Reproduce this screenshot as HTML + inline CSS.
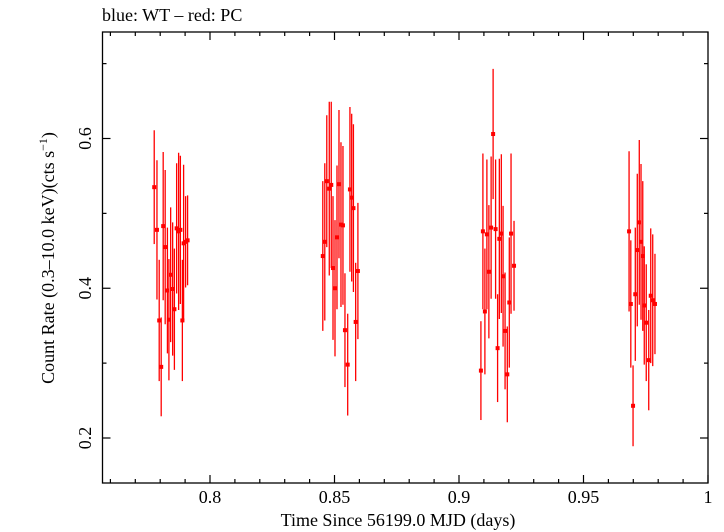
<!DOCTYPE html>
<html><head><meta charset="utf-8">
<style>
html,body{margin:0;padding:0;background:#fff;}
svg{display:block;font-family:"Liberation Serif",serif;}
</style></head>
<body>
<svg id="chart" width="724" height="532" viewBox="0 0 724 532" xmlns="http://www.w3.org/2000/svg">
<text x="102" y="21" font-size="18">blue: WT – red: PC</text>
<rect x="102.5" y="32" width="605.5" height="451" fill="none" stroke="#000" stroke-width="1.3"/>
<g id="ticks"></g>
<g id="marks"></g>
<text x="398" y="526" font-size="18" text-anchor="middle">Time Since 56199.0 MJD (days)</text>
<text transform="translate(54,258) rotate(-90)" font-size="18" text-anchor="middle">Count Rate (0.3–10.0 keV)(cts s<tspan dy="-7" font-size="12">−1</tspan><tspan dy="7">)</tspan></text>
</svg>
<script>
const times = [0.7776,0.7787,0.7796,0.7804,0.7812,0.7820,0.7829,0.7835,0.7842,0.7850,0.7857,0.7866,0.7874,0.7881,0.7889,0.7894,0.7902,0.7910,
0.8453,0.8461,0.8469,0.8479,0.8487,0.8494,0.8502,0.8510,0.8518,0.8526,0.8534,0.8542,0.8553,0.8562,0.8569,0.8576,0.8585,0.8594,
0.9088,0.9096,0.9104,0.9112,0.9120,0.9129,0.9137,0.9147,0.9155,0.9162,0.9170,0.9177,0.9185,0.9194,0.9202,0.9209,0.9221,
0.9683,0.9690,0.9699,0.9708,0.9716,0.9724,0.9731,0.9738,0.9744,0.9752,0.9762,0.9770,0.9778,0.9787];
const rates = [0.535,0.478,0.357,0.295,0.483,0.455,0.397,0.358,0.418,0.399,0.372,0.480,0.476,0.478,0.357,0.460,0.462,0.464,
0.443,0.462,0.543,0.533,0.538,0.427,0.400,0.468,0.539,0.485,0.484,0.344,0.298,0.532,0.521,0.507,0.355,0.423,
0.290,0.476,0.369,0.472,0.422,0.481,0.606,0.479,0.320,0.466,0.473,0.416,0.343,0.285,0.381,0.473,0.430,
0.476,0.379,0.243,0.392,0.451,0.488,0.462,0.443,0.377,0.354,0.304,0.390,0.384,0.379];
const errs = [0.076,0.093,0.081,0.066,0.099,0.103,0.084,0.081,0.090,0.089,0.081,0.087,0.105,0.099,0.081,0.105,0.061,0.060,
0.100,0.105,0.088,0.116,0.111,0.096,0.091,0.096,0.099,0.110,0.106,0.076,0.068,0.110,0.112,0.112,0.079,0.091,
0.066,0.104,0.084,0.100,0.089,0.095,0.087,0.093,0.072,0.107,0.106,0.094,0.078,0.064,0.087,0.107,0.060,
0.107,0.085,0.054,0.089,0.102,0.110,0.104,0.100,0.079,0.078,0.067,0.090,0.088,0.067];
const xMajor = [0.8,0.85,0.9,0.95,1.0];
const xMajorLabels = ["0.8","0.85","0.9","0.95","1"];
const yMajor = [0.2,0.4,0.6];
const yMajorLabels = ["0.2","0.4","0.6"];
const yMinor = [0.3,0.5,0.7];

const X0=102.5,X1=708,Y0=32,Y1=483;
function xs(t){return 210+(t-0.8)*2490;}
function ys(v){return 138.5-(v-0.6)*748.75;}
const NS="http://www.w3.org/2000/svg";
function mk(tag,attrs,parent){const e=document.createElementNS(NS,tag);for(const k in attrs)e.setAttribute(k,attrs[k]);parent.appendChild(e);return e;}
const tg=document.getElementById('ticks');
// x ticks
for(let i=76;i<=100;i++){
  const t=i/100;const x=xs(t);
  if(x<X0||x>X1+0.5)continue;
  const major=(i%5===0);const L=major?8:4;
  const a=mk('line',{x1:x,x2:x,y1:Y1,y2:Y1-L,stroke:'#000','stroke-width':1.2},tg);
  
  
  const b=mk('line',{x1:x,x2:x,y1:Y0,y2:Y0+L,stroke:'#000','stroke-width':1.2},tg);
  
  
}
xMajor.forEach((t,i)=>{
  const tx=mk('text',{x:xs(t),y:503,'font-size':18,'text-anchor':'middle'},tg);
  tx.textContent=xMajorLabels[i];
  
  
});
yMajor.concat(yMinor).forEach((v,i)=>{
  const y=ys(v);const L=i<yMajor.length?8:4;
  const a=mk('line',{x1:X0,x2:X0+L,y1:y,y2:y,stroke:'#000','stroke-width':1.2},tg);
  
  
  const b=mk('line',{x1:X1,x2:X1-L,y1:y,y2:y,stroke:'#000','stroke-width':1.2},tg);
  
  
});
yMajor.forEach((v,i)=>{
  const y=ys(v);
  const tx=mk('text',{transform:`translate(91,${y}) rotate(-90)`,'font-size':18,'text-anchor':'middle'},tg);
  tx.textContent=yMajorLabels[i];
  
  
});
const mg=document.getElementById('marks');
times.forEach((t,i)=>{
  const x=xs(t),y=ys(rates[i]);
  const e=mk('line',{x1:x,x2:x,y1:ys(rates[i]+errs[i]),y2:ys(rates[i]-errs[i]),stroke:'#f00','stroke-width':1.3},mg);
  
  
  const p=mk('rect',{x:x-2,y:y-2,width:4,height:4,fill:'#f00'},mg);
  
  
});
</script>
</body></html>
